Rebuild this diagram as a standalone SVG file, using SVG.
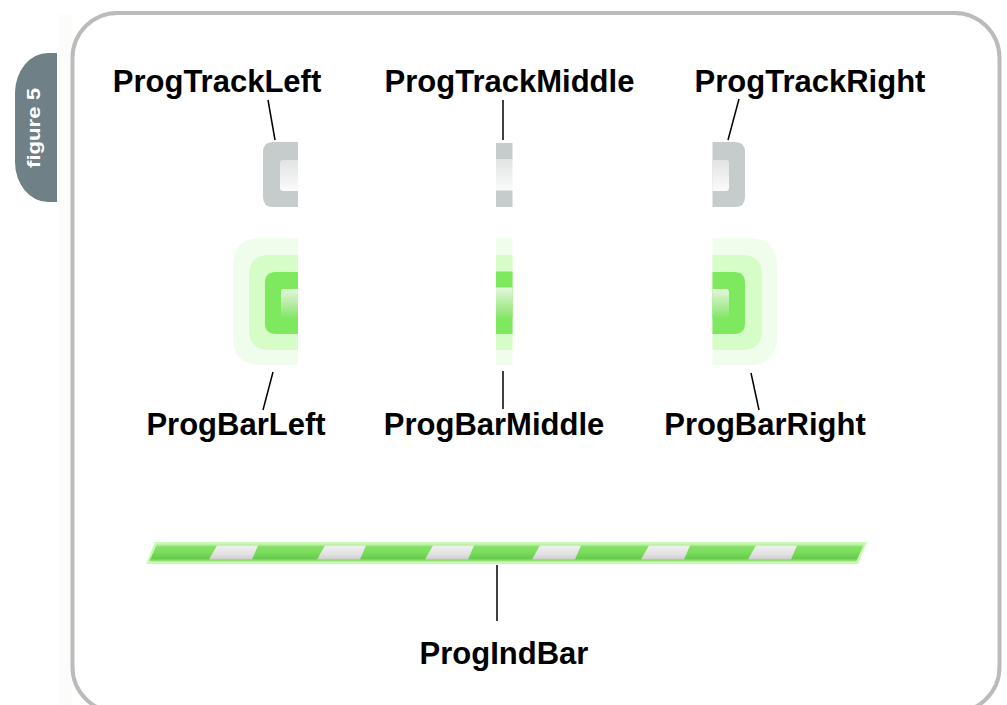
<svg xmlns="http://www.w3.org/2000/svg" xmlns:xlink="http://www.w3.org/1999/xlink" width="1007" height="705" viewBox="0 0 1007 705">
<style>
.lbl{font-family:"Liberation Sans",Arial,sans-serif;font-weight:bold;font-size:31px;fill:#000;text-anchor:middle}
.conn line{stroke:#000;stroke-width:1.5}
.gray{fill:#c5cccb}
.pale{fill:#f0fdec}
.mid{fill:#d6fcc8}
.grn{fill:#7ee85e}
</style>
<defs>
<linearGradient id="notchG" x1="0" y1="0" x2="0" y2="1">
<stop offset="0" stop-color="#e2e3e3"/>
<stop offset="1" stop-color="#fbfbfb"/>
</linearGradient>
<linearGradient id="notchGr" x1="0" y1="0" x2="0" y2="1">
<stop offset="0" stop-color="#e4f7dc"/>
<stop offset="1" stop-color="#86e46a"/>
</linearGradient>
<linearGradient id="indG" x1="0" y1="0" x2="0" y2="1">
<stop offset="0" stop-color="#c8f6b4"/>
<stop offset="0.15" stop-color="#86e268"/>
<stop offset="0.5" stop-color="#78dc5a"/>
<stop offset="0.8" stop-color="#66cc4c"/>
<stop offset="0.92" stop-color="#8ee072"/>
<stop offset="1" stop-color="#d0f8c0"/>
</linearGradient>
<linearGradient id="stripeG" x1="0" y1="0" x2="0" y2="1">
<stop offset="0" stop-color="#f0f0f0"/>
<stop offset="0.6" stop-color="#e2e2e2"/>
<stop offset="1" stop-color="#cdcdcd"/>
</linearGradient>
<polygon id="stripe" points="0,559.5 43,559.5 49,545.5 8,545.5" fill="url(#stripeG)"/>
</defs>
<rect width="1007" height="705" fill="#ffffff"/>
<rect x="58" y="15" width="14" height="690" fill="#fcfcfb"/>

<g id="tab">
<path d="M57,53 L48,53 A33,40 0 0 0 15,93 L15,162 A33,40 0 0 0 48,202 L57,202 Z" fill="#6f8087"/>
<text transform="translate(40,128) rotate(-90)" font-family="'Liberation Sans',Arial,sans-serif" font-weight="bold" font-size="18" fill="#ffffff" text-anchor="middle" textLength="80" lengthAdjust="spacingAndGlyphs">figure 5</text>
</g>

<g id="frame">
<rect x="72.5" y="13" width="927" height="699" rx="45" ry="45" fill="#ffffff" stroke="#bbbbbb" stroke-width="4"/>
</g>

<g id="ProgTrackLeft">
<path class="gray" d="M298,142 L273,142 Q263,142 263,152 L263,197 Q263,207 273,207 L298,207 Z"/>
<path d="M298,160 L283,160 Q280,160 280,163 L280,188 Q280,191 283,191 L298,191 Z" fill="url(#notchG)"/>
<text class="lbl" x="217" y="92">ProgTrackLeft</text>
</g>

<g id="ProgTrackMiddle">
<rect class="gray" x="496" y="143" width="16.5" height="16.5"/>
<rect x="496" y="159.5" width="16.5" height="31" fill="url(#notchG)"/>
<rect class="gray" x="496" y="190.5" width="16.5" height="16.5"/>
<text class="lbl" x="509.5" y="92">ProgTrackMiddle</text>
</g>

<g id="ProgTrackRight">
<path class="gray" d="M712.5,142 L735,142 Q745,142 745,152 L745,197 Q745,207 735,207 L712.5,207 Z"/>
<path d="M712.5,160 L726,160 Q729,160 729,163 L729,188 Q729,191 726,191 L712.5,191 Z" fill="url(#notchG)"/>
<text class="lbl" x="810" y="92">ProgTrackRight</text>
</g>

<g id="ProgBarLeft">
<path class="pale" d="M298,238 L261,238 Q233,238 233,266 L233,337 Q233,365 261,365 L298,365 Z"/>
<path class="mid" d="M298,255 L269,255 Q249,255 249,275 L249,330 Q249,350 269,350 L298,350 Z"/>
<path class="grn" d="M298,272 L276,272 Q265,272 265,283 L265,323 Q265,334 276,334 L298,334 Z"/>
<path d="M298,289 L284,289 Q281,289 281,292 L281,315 Q281,318 284,318 L298,318 Z" fill="url(#notchGr)"/>
<text class="lbl" x="236" y="435">ProgBarLeft</text>
</g>

<g id="ProgBarMiddle">
<rect class="pale" x="496" y="238" width="16.5" height="127"/>
<rect class="mid" x="496" y="255" width="16.5" height="95"/>
<rect class="grn" x="496" y="271.5" width="16.5" height="62.5"/>
<rect x="496" y="287.5" width="16.5" height="30.5" fill="url(#notchGr)"/>
<text class="lbl" x="494" y="435">ProgBarMiddle</text>
</g>

<g id="ProgBarRight">
<path class="pale" d="M712.5,238 L749,238 Q777,238 777,266 L777,337 Q777,365 749,365 L712.5,365 Z"/>
<path class="mid" d="M712.5,255 L742,255 Q762,255 762,275 L762,330 Q762,350 742,350 L712.5,350 Z"/>
<path class="grn" d="M712.5,272 L734,272 Q745,272 745,283 L745,323 Q745,334 734,334 L712.5,334 Z"/>
<path d="M712.5,289 L726,289 Q729,289 729,292 L729,315 Q729,318 726,318 L712.5,318 Z" fill="url(#notchGr)"/>
<text class="lbl" x="765" y="435">ProgBarRight</text>
</g>

<g id="ProgIndBar">
<polygon points="146,564 155,542 867,542 858,564" fill="#c9f7b6"/>
<polygon points="149,562 157,544 864,544 856,562" fill="url(#indG)"/>
<use xlink:href="#stripe" x="209"/>
<use xlink:href="#stripe" x="317"/>
<use xlink:href="#stripe" x="425"/>
<use xlink:href="#stripe" x="532"/>
<use xlink:href="#stripe" x="641"/>
<use xlink:href="#stripe" x="748"/>
<text class="lbl" x="504" y="664">ProgIndBar</text>
</g>

<g id="connectors" class="conn">
<line x1="268" y1="100" x2="275" y2="140"/>
<line x1="503" y1="100" x2="503" y2="140"/>
<line x1="739" y1="99" x2="728" y2="140"/>
<line x1="273" y1="372" x2="263" y2="410"/>
<line x1="503" y1="371" x2="503" y2="409"/>
<line x1="751" y1="373" x2="759" y2="410"/>
<line x1="497" y1="565" x2="497" y2="621"/>
</g>
</svg>
